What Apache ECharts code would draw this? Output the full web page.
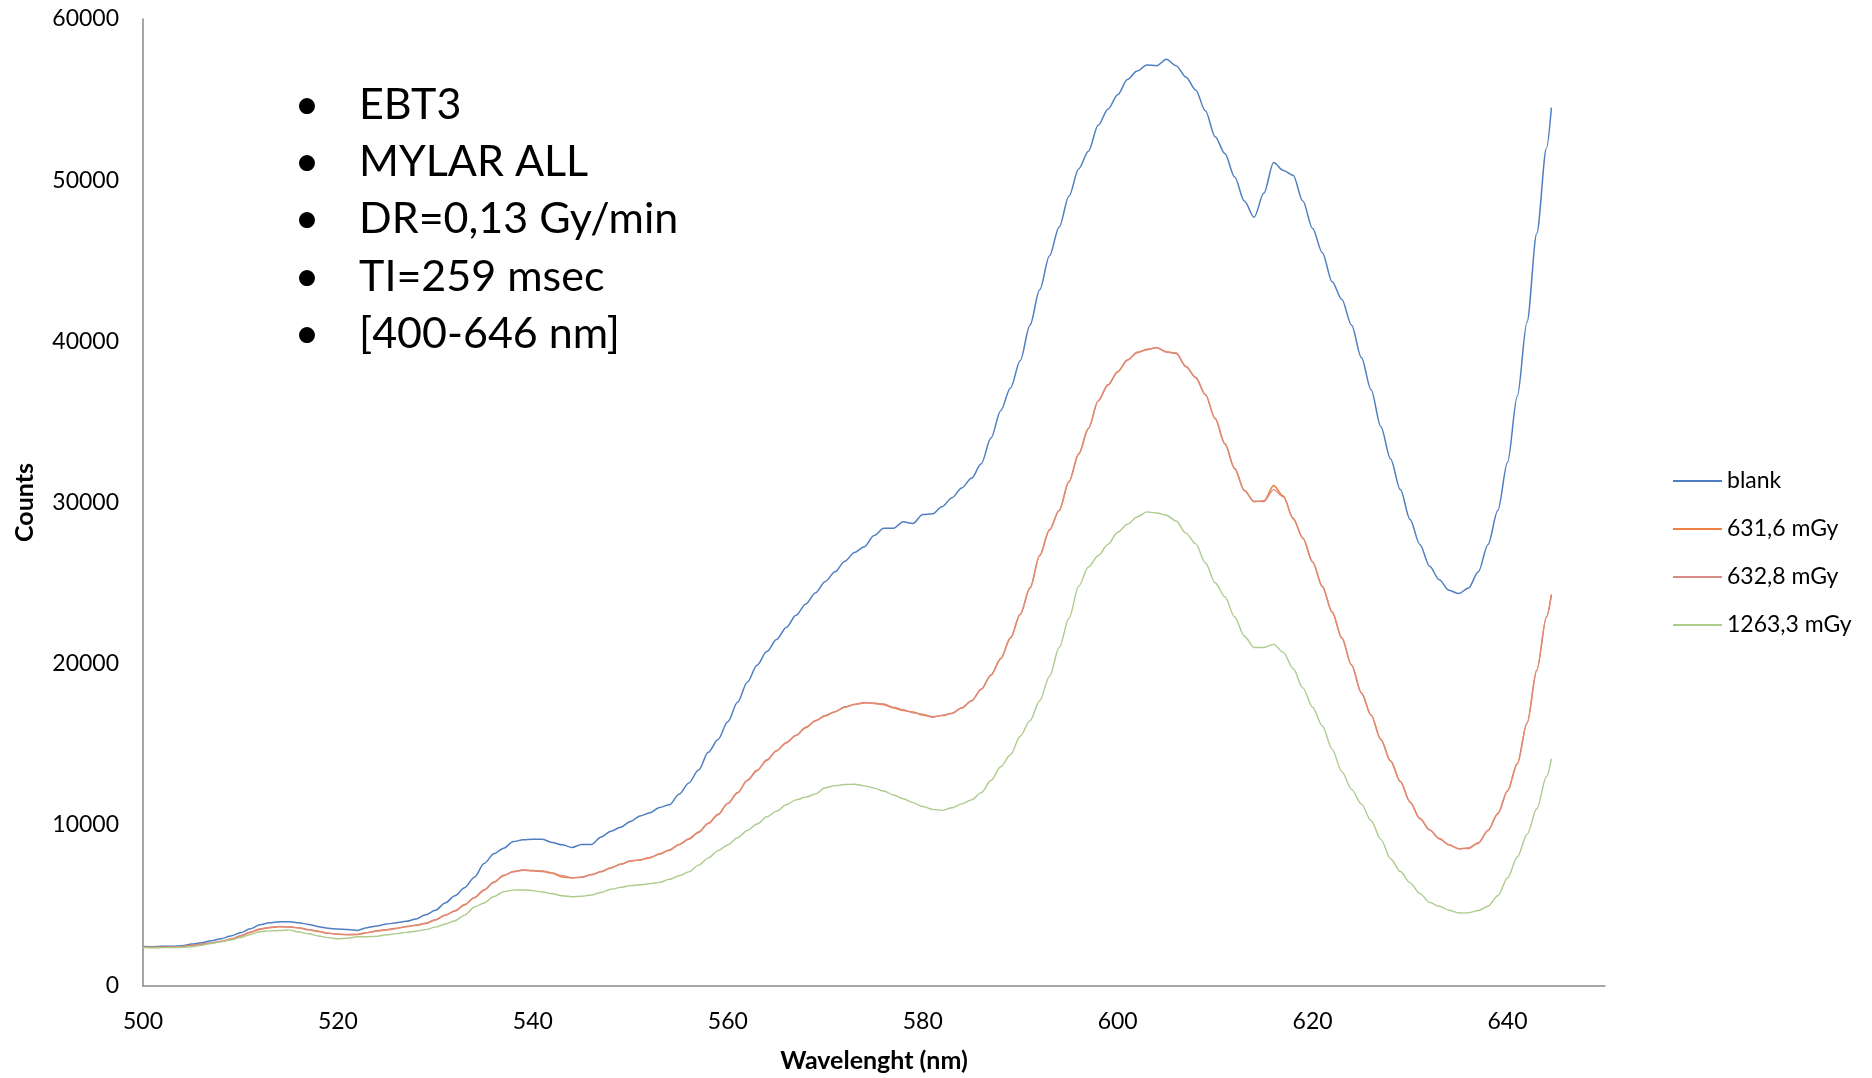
<!DOCTYPE html>
<html>
<head>
<meta charset="utf-8">
<script src="https://cdn.jsdelivr.net/npm/echarts@6/dist/echarts.min.js"></script>
<style>
  html, body { margin: 0; padding: 0; background: #ffffff; }
  #chart { width: 1872px; height: 1078px; }
</style>
</head>
<body>
<div id="chart"></div>
<script>
// Wavelength grid (nm)
const wavelengths = [
  500, 501, 502, 503, 504, 505, 506, 507, 508, 509,
  510, 511, 512, 513, 514, 515, 516, 517, 518, 519,
  520, 521, 522, 523, 524, 525, 526, 527, 528, 529,
  530, 531, 532, 533, 534, 535, 536, 537, 538, 539,
  540, 541, 542, 543, 544, 545, 546, 547, 548, 549,
  550, 551, 552, 553, 554, 555, 556, 557, 558, 559,
  560, 561, 562, 563, 564, 565, 566, 567, 568, 569,
  570, 571, 572, 573, 574, 575, 576, 577, 578, 579,
  580, 581, 582, 583, 584, 585, 586, 587, 588, 589,
  590, 591, 592, 593, 594, 595, 596, 597, 598, 599,
  600, 601, 602, 603, 604, 605, 606, 607, 608, 609,
  610, 611, 612, 613, 614, 615, 616, 617, 618, 619,
  620, 621, 622, 623, 624, 625, 626, 627, 628, 629,
  630, 631, 632, 633, 634, 635, 636, 637, 638, 639,
  640, 641, 642, 643, 644, 644.5
];

// Counts per film
const blank = [
  2450, 2440, 2460, 2470, 2500, 2600, 2680, 2800, 2930, 3100,
  3300, 3550, 3800, 3920, 3990, 3990, 3920, 3820, 3680, 3580,
  3530, 3500, 3450, 3620, 3720, 3840, 3930, 4010, 4150, 4420,
  4700, 5150, 5600, 6100, 6750, 7600, 8200, 8550, 8960, 9080,
  9110, 9100, 8900, 8760, 8600, 8780, 8780, 9250, 9600, 9850,
  10200, 10550, 10750, 11080, 11240, 11900, 12600, 13400, 14500, 15300,
  16400, 17600, 18850, 19900, 20750, 21500, 22250, 23000, 23700, 24400,
  25100, 25700, 26350, 26900, 27250, 27950, 28400, 28400, 28800, 28700,
  29250, 29300, 29750, 30300, 30900, 31500, 32400, 34000, 35700, 37100,
  38800, 41000, 43200, 45300, 47100, 49000, 50700, 51800, 53400, 54400,
  55300, 56250, 56770, 57150, 57100, 57500, 57100, 56400, 55600, 54300,
  52700, 51650, 50200, 48700, 47700, 49200, 51100, 50600, 50300, 48700,
  47000, 45500, 43700, 42600, 41000, 39000, 37000, 34700, 32700, 30800,
  28950, 27400, 26050, 25200, 24550, 24350, 24700, 25700, 27400, 29500,
  32500, 36600, 41200, 46700, 52000, 54500
];

const dose631 = [
  2400, 2390, 2400, 2410, 2440, 2520, 2590, 2670, 2760, 2900,
  3100, 3330, 3530, 3620, 3680, 3660, 3600, 3490, 3380, 3270,
  3210, 3180, 3200, 3300, 3420, 3480, 3580, 3680, 3770, 3880,
  4100, 4400, 4650, 5050, 5480, 5950, 6450, 6850, 7100, 7190,
  7160, 7100, 7000, 6760, 6700, 6760, 6900, 7100, 7320, 7560,
  7740, 7830, 7950, 8200, 8420, 8780, 9110, 9550, 10080, 10650,
  11320, 12000, 12750, 13380, 14000, 14600, 15080, 15560, 16030, 16470,
  16760, 17020, 17300, 17480, 17560, 17550, 17460, 17250, 17100, 17000,
  16820, 16700, 16780, 16920, 17250, 17700, 18400, 19300, 20300, 21600,
  23050, 24700, 26700, 28300, 29500, 31300, 33000, 34600, 36300, 37300,
  38100, 38850, 39300, 39500, 39600, 39350, 39250, 38450, 37750, 36700,
  35200, 33650, 32100, 30750, 30050, 30100, 31050, 30400, 29000, 27800,
  26300, 24800, 23200, 21600, 19900, 18200, 16800, 15300, 13950, 12700,
  11400, 10400, 9680, 9150, 8750, 8520, 8540, 8880, 9650, 10700,
  12100, 13800, 16300, 19600, 22900, 24300
];

const dose632 = [
  2410, 2400, 2390, 2420, 2450, 2510, 2600, 2680, 2780, 2920,
  3120, 3350, 3550, 3640, 3700, 3680, 3610, 3500, 3400, 3290,
  3220, 3200, 3210, 3320, 3400, 3500, 3560, 3700, 3780, 3900,
  4120, 4380, 4680, 5020, 5500, 5970, 6420, 6880, 7080, 7210,
  7140, 7150, 7020, 6850, 6720, 6740, 6920, 7080, 7350, 7540,
  7780, 7800, 7990, 8180, 8450, 8760, 9150, 9520, 10110, 10620,
  11350, 11970, 12780, 13350, 14040, 14570, 15120, 15530, 16070, 16440,
  16800, 17000, 17330, 17450, 17600, 17520, 17500, 17300, 17150, 16950,
  16870, 16680, 16800, 16900, 17280, 17670, 18430, 19270, 20330, 21570,
  23080, 24670, 26730, 28270, 29530, 31270, 33030, 34570, 36330, 37270,
  38130, 38820, 39330, 39470, 39630, 39320, 39280, 38420, 37780, 36670,
  35230, 33620, 32130, 30720, 30080, 30050, 30800, 30350, 29050, 27770,
  26330, 24770, 23230, 21570, 19930, 18170, 16830, 15270, 13980, 12670,
  11430, 10370, 9710, 9120, 8780, 8500, 8570, 8850, 9680, 10670,
  12130, 13770, 16330, 19570, 22930, 24250
];

const dose1263 = [
  2380, 2370, 2380, 2380, 2400, 2440, 2520, 2640, 2750, 2850,
  3000, 3200, 3370, 3420, 3440, 3480, 3350, 3240, 3100, 3000,
  2930, 2960, 3060, 3060, 3080, 3180, 3250, 3330, 3400, 3500,
  3650, 3850, 4050, 4400, 4900, 5150, 5550, 5850, 5950, 5960,
  5920, 5830, 5720, 5600, 5540, 5570, 5650, 5800, 6000, 6120,
  6230, 6280, 6350, 6430, 6620, 6840, 7080, 7500, 7950, 8400,
  8750, 9200, 9650, 10050, 10500, 10850, 11250, 11550, 11720, 11920,
  12300, 12430, 12500, 12520, 12420, 12280, 12100, 11850, 11620, 11380,
  11140, 10960, 10900, 11060, 11300, 11550, 12000, 12750, 13600, 14350,
  15500, 16450, 17700, 19200, 21000, 22800, 24800, 26000, 26700, 27400,
  28150, 28650, 29100, 29420, 29350, 29210, 28850, 28100, 27450, 26260,
  25020, 24150, 22900, 21700, 21000, 21000, 21200, 20700, 19700, 18500,
  17300, 16130, 14700, 13300, 12200, 11300, 10250, 9100, 7900, 7100,
  6400, 5750, 5190, 4950, 4700, 4530, 4540, 4680, 4950, 5600,
  6700, 8000, 9400, 11000, 13000, 14100
];

const seriesNames = ['blank', '631,6 mGy', '632,8 mGy', '1263,3 mGy'];
const seriesValues = [blank, dose631, dose632, dose1263];
const seriesColors = ['#4F7EC1', '#EE8243', '#D98C88', '#ADCB8C'];
const seriesWidths = [1.5, 1.6, 1.2, 1.4];

// Measurement notes shown as a bullet list
const notes = ['EBT3', 'MYLAR ALL', 'DR=0,13 Gy/min', 'TI=259 msec', '[400-646 nm]'];

const FONT = 'Lato, "Open Sans", sans-serif';

const chart = echarts.init(document.getElementById('chart'), null, { renderer: 'canvas' });

const noteGraphics = [];
notes.forEach((t, i) => {
  const y = 105 + i * 57.3;
  noteGraphics.push({
    type: 'text', x: 307, y: y,
    style: { text: '\u2022', fontFamily: FONT, fontSize: 43, fill: '#000',
             align: 'center', verticalAlign: 'middle' }
  });
  noteGraphics.push({
    type: 'text', x: 359, y: y,
    style: { text: t, fontFamily: FONT, fontSize: 43, fill: '#000',
             align: 'left', verticalAlign: 'middle' }
  });
});

const option = {
  animation: false,
  backgroundColor: '#ffffff',
  color: seriesColors,
  grid: { left: 143, right: 267, top: 19, bottom: 91, containLabel: false },
  xAxis: {
    type: 'value', min: 500, max: 650, interval: 20,
    axisLine: { show: true, lineStyle: { color: '#898989', width: 1.5 } },
    axisTick: { show: false },
    splitLine: { show: false },
    axisLabel: {
      fontFamily: FONT, fontSize: 23, color: '#000', margin: 24,
      formatter: v => (v % 20 === 0 ? String(v) : '')
    },
    name: 'Wavelenght (nm)', nameLocation: 'middle', nameGap: 62,
    nameTextStyle: { fontFamily: FONT, fontSize: 25, fontWeight: 'bold', color: '#000' }
  },
  yAxis: {
    type: 'value', min: 0, max: 60000, interval: 10000,
    axisLine: { show: true, lineStyle: { color: '#898989', width: 1.5 } },
    axisTick: { show: false },
    splitLine: { show: false },
    axisLabel: { fontFamily: FONT, fontSize: 23, color: '#000', margin: 24,
                 formatter: v => String(v) },
    name: 'Counts', nameLocation: 'middle', nameGap: 106, nameRotate: 90,
    nameTextStyle: { fontFamily: FONT, fontSize: 25, fontWeight: 'bold', color: '#000' }
  },
  legend: {
    orient: 'vertical', left: 1668, top: 464,
    icon: 'rect', itemWidth: 49, itemHeight: 2, itemGap: 24,
    textStyle: { fontFamily: FONT, fontSize: 23, color: '#000', lineHeight: 24 },
    data: seriesNames
  },
  series: seriesNames.map((name, k) => ({
    name: name,
    type: 'line',
    symbol: 'none',
    showSymbol: false,
    smooth: 0.3,
    smoothMonotone: 'x',
    lineStyle: { width: seriesWidths[k], color: seriesColors[k] },
    itemStyle: { color: seriesColors[k] },
    data: wavelengths.map((w, i) => [w, seriesValues[k][i]])
  })),
  graphic: noteGraphics
};

chart.setOption(option);
</script>
</body>
</html>
